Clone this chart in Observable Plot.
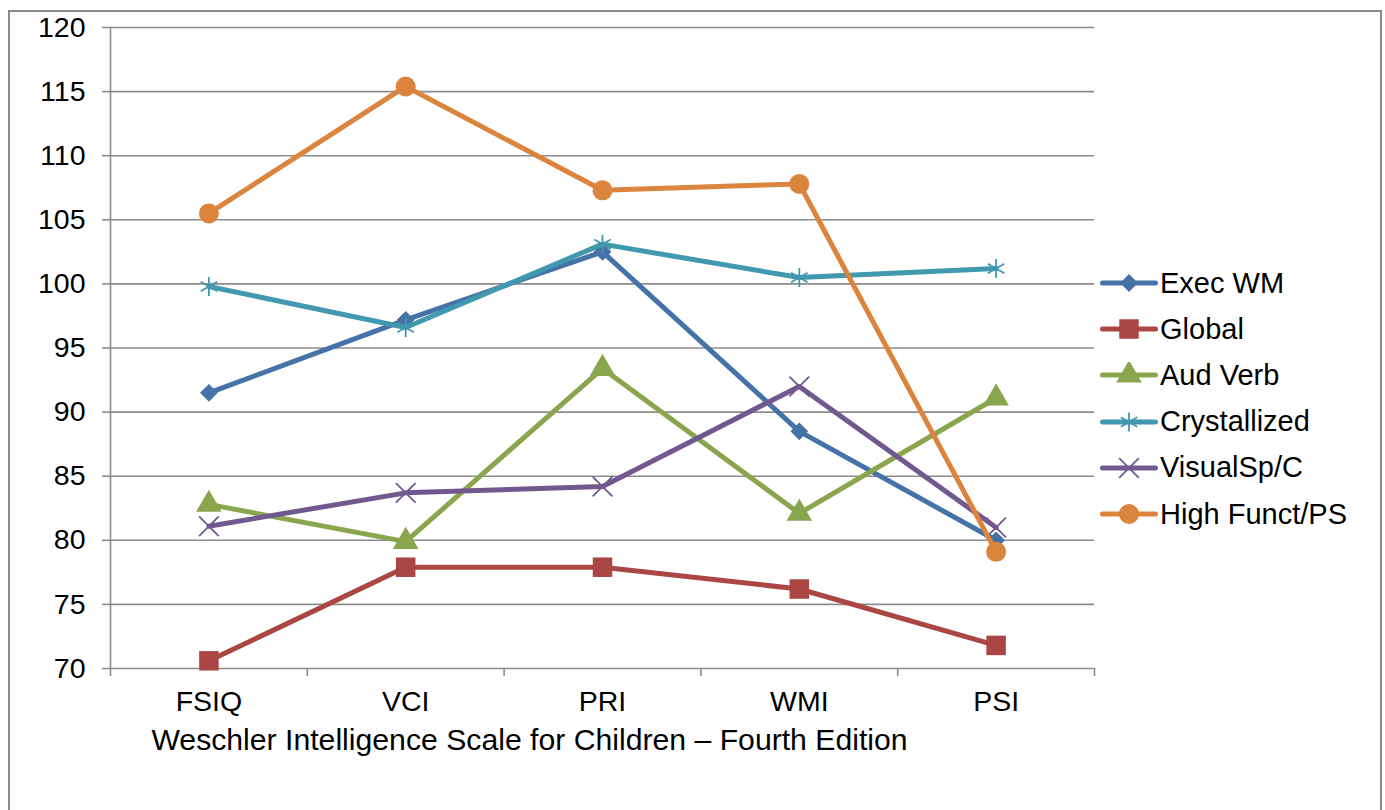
<!DOCTYPE html>
<html>
<head>
<meta charset="utf-8">
<script src="https://cdn.jsdelivr.net/npm/d3@7"></script>
<script src="https://cdn.jsdelivr.net/npm/@observablehq/plot@0.6"></script>
<style>
  html, body { margin: 0; padding: 0; background: #fff; overflow: hidden; width: 1385px; height: 810px; }
  #frame { position: absolute; left: 8px; top: 10px; width: 1374px; height: 900px; border: 2px solid #8a8a8a; box-sizing: border-box; }
  #chart { position: absolute; left: 0; top: 0; }
  #legend { position: absolute; left: 1100px; top: 260px; font-family: "Liberation Sans", Arial, sans-serif; font-size: 29px; color: #000; }
  .row { height: 46.2px; display: flex; align-items: center; }
  .row svg { margin-right: 2px; flex: none; }
  .row span { white-space: nowrap; }
</style>
</head>
<body>
<div id="frame"></div>
<div id="chart"></div>
<div id="legend"></div>
<script>
const categories = ["FSIQ", "VCI", "PRI", "WMI", "PSI"];
const seriesNames = ["Exec WM", "Global", "Aud Verb", "Crystallized", "VisualSp/C", "High Funct/PS"];
const execWM       = [91.5, 97.2, 102.5, 88.5, 80.0];
const globalS      = [70.6, 77.9, 77.9, 76.2, 71.8];
const audVerb      = [82.8, 79.9, 93.4, 82.1, 91.1];
const crystallized = [99.8, 96.6, 103.1, 100.5, 101.2];
const visualSp     = [81.1, 83.7, 84.2, 92.0, 81.0];
const highFunct    = [105.5, 115.4, 107.3, 107.8, 79.1];
const yTicks = [70, 75, 80, 85, 90, 95, 100, 105, 110, 115, 120];
const xTitle = "Weschler Intelligence Scale for Children – Fourth Edition";

const seriesValues = [execWM, globalS, audVerb, crystallized, visualSp, highFunct];
const colors  = ["#4572A7", "#AA4643", "#89A54E", "#4198AF", "#71588F", "#DB843D"];
const symbols = ["diamond2", "square", "triangle", "asterisk", "times", "circle"];
const radii   = [8, 11, 9.5, 9, 9, 10];
const filled  = [true, true, true, false, false, true];

const data = seriesNames.flatMap((s, k) => seriesValues[k].map((v, i) => ({series: s, i, value: v})));
const boundaries = d3.range(categories.length + 1).map(d => d - 0.5);
const grey = "#8c8c8c";
const fs = 28.5;

const marks = [
  Plot.gridY(yTicks.slice(1), {stroke: grey, strokeOpacity: 1, strokeWidth: 1.6}),
  Plot.ruleY([yTicks[0]], {stroke: grey, strokeWidth: 1.6}),
  Plot.ruleX([boundaries[0]], {stroke: grey, strokeWidth: 1.6}),
  Plot.axisY({ticks: yTicks, tickSize: 8, tickPadding: 17, stroke: grey, strokeWidth: 1.6, label: null, fontSize: fs}),
  Plot.axisX({ticks: boundaries, tickSize: 8, tickFormat: () => "", stroke: grey, strokeWidth: 1.6, label: null}),
  Plot.axisX({ticks: d3.range(categories.length), tickSize: 0, tickPadding: 22, tickFormat: i => categories[i], label: null, fontSize: fs}),
  Plot.text([xTitle], {frameAnchor: "bottom", dx: -73, dy: 72, lineAnchor: "middle", fontSize: 30.2, fill: "#000"})
];
seriesNames.forEach((s, k) => {
  const d = data.filter(r => r.series === s);
  marks.push(Plot.line(d, {x: "i", y: "value", stroke: colors[k], strokeWidth: 5, strokeLinecap: "round", strokeLinejoin: "round"}));
  marks.push(Plot.dot(d, filled[k]
    ? {x: "i", y: "value", symbol: symbols[k], r: radii[k], fill: colors[k], stroke: "none"}
    : {x: "i", y: "value", symbol: symbols[k], r: radii[k], fill: "none", stroke: colors[k], strokeWidth: 1.8}));
});

const chart = Plot.plot({
  width: 1385,
  height: 810,
  marginLeft: 110,
  marginRight: 291,
  marginTop: 27,
  marginBottom: 142,
  x: {type: "linear", domain: [-0.5, categories.length - 0.5], axis: null},
  y: {domain: [yTicks[0], yTicks[yTicks.length - 1]], axis: null},
  style: {fontFamily: "'Liberation Sans', Arial, sans-serif", fontSize: fs + "px", color: "#000", background: "transparent", overflow: "visible"},
  marks
});
document.getElementById("chart").append(chart);

const legend = document.getElementById("legend");
const symMap = {diamond2: d3.symbolDiamond2, square: d3.symbolSquare, triangle: d3.symbolTriangle, asterisk: d3.symbolAsterisk, times: d3.symbolTimes, circle: d3.symbolCircle};
seriesNames.forEach((s, k) => {
  const row = document.createElement("div");
  row.className = "row";
  const sw = d3.create("svg").attr("width", 58).attr("height", 26);
  sw.append("line").attr("x1", 2.5).attr("x2", 55.5).attr("y1", 13).attr("y2", 13)
    .attr("stroke", colors[k]).attr("stroke-width", 5).attr("stroke-linecap", "round");
  const p = sw.append("path").attr("transform", "translate(29,13)")
    .attr("d", d3.symbol(symMap[symbols[k]], Math.PI * radii[k] * radii[k])());
  if (filled[k]) p.attr("fill", colors[k]); else p.attr("fill", "none").attr("stroke", colors[k]).attr("stroke-width", 1.8);
  row.append(sw.node());
  const t = document.createElement("span");
  t.textContent = s;
  row.append(t);
  legend.append(row);
});
</script>
</body>
</html>
